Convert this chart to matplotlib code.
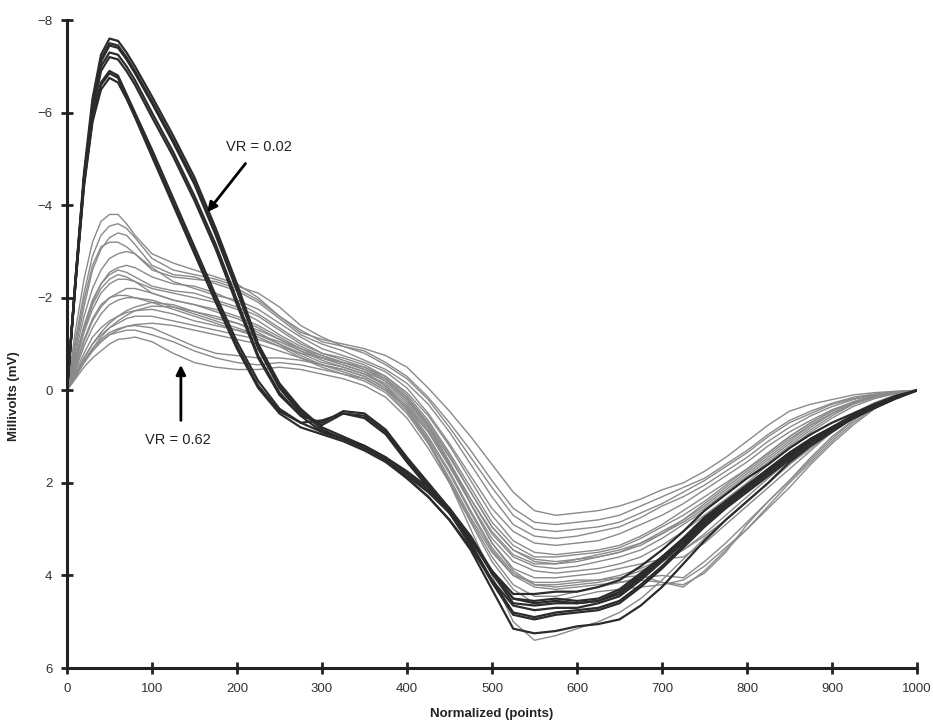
import matplotlib
matplotlib.use('Agg')
import matplotlib.pyplot as plt

plt.rcParams['font.family'] = ['Liberation Sans', 'DejaVu Sans']

# sample positions (normalized points) shared by every trace
x_points = [0, 10, 20, 30, 40, 50, 60, 70, 80,
            100, 125, 150, 175, 200, 225, 250, 275, 300, 325, 350, 375, 400, 425, 450, 475,
            500, 525, 550, 575, 600, 625, 650, 675, 700, 725, 750, 775, 800, 825, 850, 875,
            900, 925, 950, 975, 1000]

# VR = 0.02 bundle (dark traces), millivolts
dark_1 = [0, -2.4, -4.7, -6.3, -7.25, -7.6, -7.55, -7.3, -7.0,
          -6.35, -5.5, -4.6, -3.5, -2.3, -1.0, -0.15, 0.4, 0.8, 1.0, 1.2, 1.45, 1.8, 2.15, 2.6, 3.2,
          3.95, 4.5, 4.55, 4.5, 4.55, 4.5, 4.3, 3.95, 3.6, 3.2, 2.75, 2.4, 2.05, 1.7, 1.35, 1.05,
          0.8, 0.55, 0.35, 0.15, 0]
dark_2 = [0, -2.3, -4.6, -6.2, -7.15, -7.5, -7.45, -7.2, -6.9,
          -6.25, -5.4, -4.5, -3.4, -2.2, -0.95, -0.1, 0.45, 0.85, 1.05, 1.25, 1.5, 1.9, 2.3, 2.8, 3.45,
          4.3, 5.15, 5.25, 5.2, 5.1, 5.05, 4.95, 4.65, 4.25, 3.75, 3.25, 2.8, 2.4, 2.0, 1.55, 1.2,
          0.9, 0.6, 0.38, 0.18, 0]
dark_3 = [0, -2.35, -4.6, -6.15, -7.1, -7.45, -7.4, -7.15, -6.85,
          -6.2, -5.35, -4.45, -3.35, -2.15, -0.9, -0.05, 0.5, 0.75, 0.5, 0.55, 0.9, 1.5, 2.05, 2.6, 3.3,
          4.1, 4.8, 4.9, 4.8, 4.75, 4.7, 4.55, 4.2, 3.8, 3.35, 2.9, 2.5, 2.15, 1.8, 1.45, 1.1,
          0.85, 0.6, 0.38, 0.17, 0]
dark_4 = [0, -2.4, -4.6, -6.1, -7.0, -7.3, -7.25, -7.0, -6.7,
          -6.0, -5.15, -4.2, -3.15, -1.95, -0.75, 0.05, 0.55, 0.9, 1.05, 1.25, 1.5, 1.85, 2.2, 2.65, 3.25,
          3.9, 4.4, 4.4, 4.35, 4.35, 4.25, 4.1, 3.8, 3.45, 3.05, 2.6, 2.25, 1.9, 1.6, 1.25, 0.95,
          0.7, 0.5, 0.3, 0.12, 0]
dark_5 = [0, -2.3, -4.5, -6.0, -6.9, -7.2, -7.15, -6.9, -6.6,
          -5.9, -5.05, -4.1, -3.05, -1.85, -0.7, 0.1, 0.55, 0.7, 0.45, 0.5, 0.85, 1.45, 2.0, 2.55, 3.2,
          3.95, 4.6, 4.65, 4.6, 4.6, 4.55, 4.4, 4.05, 3.65, 3.25, 2.8, 2.45, 2.1, 1.75, 1.4, 1.05,
          0.8, 0.55, 0.35, 0.15, 0]
dark_6 = [0, -2.4, -4.5, -5.9, -6.65, -6.9, -6.8, -6.4, -6.0,
          -5.2, -4.15, -3.1, -2.05, -1.05, -0.2, 0.4, 0.7, 0.9, 1.05, 1.2, 1.45, 1.75, 2.1, 2.55, 3.15,
          3.9, 4.5, 4.6, 4.55, 4.6, 4.55, 4.35, 4.0, 3.6, 3.2, 2.75, 2.4, 2.05, 1.7, 1.35, 1.05,
          0.8, 0.55, 0.35, 0.15, 0]
dark_7 = [0, -2.35, -4.45, -5.85, -6.6, -6.85, -6.75, -6.35, -5.95,
          -5.1, -4.05, -3.0, -1.95, -0.95, -0.1, 0.45, 0.7, 0.65, 0.5, 0.6, 0.95, 1.55, 2.1, 2.65, 3.35,
          4.15, 4.85, 4.95, 4.85, 4.8, 4.75, 4.6, 4.25, 3.85, 3.4, 2.95, 2.55, 2.2, 1.85, 1.5, 1.15,
          0.85, 0.6, 0.38, 0.17, 0]
dark_8 = [0, -2.3, -4.4, -5.8, -6.5, -6.75, -6.65, -6.3, -5.9,
          -5.05, -4.0, -2.95, -1.9, -0.9, -0.05, 0.5, 0.8, 0.95, 1.1, 1.3, 1.55, 1.9, 2.3, 2.8, 3.4,
          4.1, 4.65, 4.75, 4.7, 4.7, 4.6, 4.45, 4.1, 3.7, 3.3, 2.85, 2.45, 2.1, 1.75, 1.4, 1.1,
          0.82, 0.58, 0.36, 0.16, 0]

# VR = 0.62 bundle (grey traces), millivolts
gray_1 = [0, -1.3, -2.4, -3.2, -3.65, -3.8, -3.8, -3.6, -3.35,
          -2.95, -2.75, -2.6, -2.45, -2.3, -2.0, -1.6, -1.25, -1.1, -1.0, -0.9, -0.75, -0.5, -0.05, 0.45, 1.0,
          1.6, 2.2, 2.6, 2.7, 2.65, 2.6, 2.5, 2.35, 2.15, 2.0, 1.75, 1.45, 1.1, 0.75, 0.45, 0.3,
          0.2, 0.1, 0.05, 0.02, 0]
gray_2 = [0, -1.1, -2.1, -2.9, -3.35, -3.55, -3.6, -3.5, -3.3,
          -2.85, -2.6, -2.5, -2.4, -2.25, -2.1, -1.8, -1.4, -1.15, -0.95, -0.85, -0.6, -0.3, 0.15, 0.7, 1.3,
          1.95, 2.55, 2.85, 2.9, 2.85, 2.8, 2.7, 2.5, 2.3, 2.1, 1.9, 1.6, 1.3, 0.95, 0.65, 0.45,
          0.28, 0.15, 0.08, 0.03, 0]
gray_3 = [0, -0.9, -1.8, -2.6, -3.05, -3.3, -3.4, -3.35, -3.15,
          -2.7, -2.5, -2.45, -2.3, -2.15, -1.9, -1.55, -1.2, -1.0, -0.85, -0.65, -0.45, -0.15, 0.3, 0.9, 1.6,
          2.3, 2.9, 3.15, 3.2, 3.15, 3.05, 2.95, 2.75, 2.5, 2.3, 2.05, 1.75, 1.45, 1.1, 0.8, 0.55,
          0.35, 0.2, 0.1, 0.04, 0]
gray_4 = [0, -0.8, -1.6, -2.2, -2.6, -2.85, -2.95, -3.0, -2.95,
          -2.65, -2.35, -2.2, -2.05, -1.95, -1.75, -1.45, -1.15, -0.9, -0.75, -0.6, -0.4, -0.05, 0.5, 1.15, 1.85,
          2.55, 3.05, 3.3, 3.35, 3.3, 3.25, 3.1, 2.9, 2.7, 2.45, 2.15, 1.85, 1.55, 1.2, 0.9, 0.65,
          0.42, 0.25, 0.12, 0.05, 0]
gray_5 = [0, -0.7, -1.4, -1.95, -2.3, -2.55, -2.65, -2.7, -2.65,
          -2.45, -2.3, -2.25, -2.1, -1.9, -1.65, -1.35, -1.05, -0.8, -0.7, -0.55, -0.3, 0.05, 0.55, 1.2, 1.95,
          2.7, 3.25, 3.5, 3.55, 3.5, 3.45, 3.35, 3.15, 2.9, 2.6, 2.3, 2.0, 1.7, 1.35, 1.0, 0.7,
          0.45, 0.25, 0.12, 0.05, 0]
gray_6 = [0, -0.6, -1.25, -1.75, -2.1, -2.3, -2.4, -2.4, -2.35,
          -2.2, -2.1, -2.0, -1.9, -1.75, -1.5, -1.2, -0.95, -0.75, -0.6, -0.45, -0.2, 0.2, 0.75, 1.45, 2.2,
          2.95, 3.45, 3.7, 3.75, 3.7, 3.6, 3.5, 3.35, 3.1, 2.85, 2.55, 2.2, 1.85, 1.5, 1.15, 0.8,
          0.5, 0.3, 0.15, 0.06, 0]
gray_7 = [0, -0.5, -1.05, -1.5, -1.8, -2.0, -2.1, -2.2, -2.2,
          -2.1, -1.95, -1.85, -1.7, -1.55, -1.35, -1.1, -0.85, -0.65, -0.5, -0.35, -0.1, 0.3, 0.9, 1.65, 2.45,
          3.2, 3.7, 3.9, 3.95, 3.9, 3.85, 3.75, 3.6, 3.35, 3.05, 2.7, 2.35, 2.0, 1.6, 1.25, 0.9,
          0.6, 0.35, 0.18, 0.07, 0]
gray_8 = [0, -0.45, -0.95, -1.35, -1.65, -1.85, -1.95, -2.0, -2.0,
          -1.95, -1.8, -1.7, -1.6, -1.45, -1.25, -1.0, -0.75, -0.55, -0.4, -0.25, 0.0, 0.45, 1.1, 1.9, 2.75,
          3.5, 4.0, 4.15, 4.15, 4.1, 4.1, 4.05, 4.0, 4.15, 4.2, 3.95, 3.5, 2.9, 2.4, 1.95, 1.45,
          1.0, 0.65, 0.35, 0.15, 0]
gray_9 = [0, -0.3, -0.6, -0.9, -1.15, -1.35, -1.5, -1.62, -1.72,
          -1.82, -1.8, -1.65, -1.5, -1.35, -1.2, -1.0, -0.8, -0.6, -0.5, -0.35, -0.15, 0.25, 0.85, 1.6, 2.45,
          3.3, 3.85, 4.05, 4.05, 4.0, 3.95, 3.85, 3.75, 3.65, 3.6, 3.3, 2.9, 2.5, 2.1, 1.7, 1.3,
          0.9, 0.55, 0.3, 0.12, 0]
gray_10 = [0, -0.4, -0.8, -1.15, -1.35, -1.5, -1.6, -1.68, -1.72,
           -1.75, -1.65, -1.5, -1.4, -1.3, -1.2, -1.05, -0.85, -0.7, -0.6, -0.5, -0.3, 0.1, 0.65, 1.35, 2.1,
           2.85, 3.35, 3.6, 3.6, 3.55, 3.5, 3.4, 3.2, 2.95, 2.7, 2.4, 2.05, 1.7, 1.35, 1.0, 0.7,
           0.45, 0.25, 0.12, 0.05, 0]
gray_11 = [0, -0.35, -0.7, -1.0, -1.2, -1.35, -1.45, -1.55, -1.6,
           -1.6, -1.5, -1.4, -1.3, -1.2, -1.1, -0.95, -0.8, -0.7, -0.55, -0.4, -0.2, 0.2, 0.8, 1.55, 2.35,
           3.1, 3.6, 3.8, 3.85, 3.8, 3.7, 3.6, 3.45, 3.2, 2.9, 2.6, 2.25, 1.9, 1.55, 1.2, 0.85,
           0.55, 0.3, 0.15, 0.06, 0]
gray_12 = [0, -0.3, -0.6, -0.85, -1.05, -1.2, -1.3, -1.38, -1.42,
           -1.45, -1.4, -1.3, -1.2, -1.1, -1.0, -0.85, -0.7, -0.55, -0.45, -0.3, -0.05, 0.4, 1.05, 1.8, 2.65,
           3.45, 4.0, 4.25, 4.3, 4.25, 4.2, 4.15, 4.1, 4.15, 4.25, 3.9, 3.45, 3.0, 2.55, 2.1, 1.6,
           1.15, 0.75, 0.4, 0.17, 0]
gray_13 = [0, -0.3, -0.6, -0.85, -1.05, -1.2, -1.25, -1.3, -1.3,
           -1.2, -1.05, -0.85, -0.7, -0.6, -0.55, -0.6, -0.55, -0.45, -0.35, -0.2, 0.05, 0.5, 1.15, 1.95, 2.8,
           3.6, 4.2, 4.45, 4.45, 4.35, 4.25, 4.15, 4.05, 4.0, 4.05, 3.7, 3.3, 2.85, 2.4, 1.95, 1.5,
           1.05, 0.65, 0.35, 0.15, 0]
gray_14 = [0, -0.25, -0.5, -0.7, -0.85, -1.0, -1.1, -1.12, -1.15,
           -1.05, -0.8, -0.6, -0.5, -0.45, -0.45, -0.5, -0.45, -0.35, -0.25, -0.1, 0.15, 0.6, 1.25, 2.0, 2.85,
           3.7, 4.3, 4.6, 4.55, 4.45, 4.35, 4.3, 4.25, 4.2, 4.1, 3.8, 3.4, 3.0, 2.5, 2.0, 1.55,
           1.1, 0.7, 0.38, 0.16, 0]
gray_15 = [0, -0.65, -1.3, -1.85, -2.2, -2.4, -2.5, -2.45, -2.35,
           -2.1, -1.95, -1.85, -1.75, -1.6, -1.4, -1.15, -0.9, -0.7, -0.55, -0.4, -0.1, 0.4, 1.1, 2.0, 3.0,
           4.0, 5.0, 5.4, 5.3, 5.15, 5.0, 4.8, 4.5, 4.1, 3.65, 3.2, 2.8, 2.4, 2.0, 1.6, 1.25,
           0.9, 0.6, 0.35, 0.15, 0]
gray_16 = [0, -0.55, -1.1, -1.55, -1.85, -2.0, -2.05, -2.05, -2.0,
           -1.9, -1.75, -1.6, -1.45, -1.3, -1.15, -0.95, -0.7, -0.5, -0.35, -0.25, 0.0, 0.35, 0.9, 1.6, 2.35,
           3.05, 3.55, 3.75, 3.75, 3.65, 3.6, 3.5, 3.3, 3.1, 2.8, 2.5, 2.15, 1.8, 1.45, 1.1, 0.75,
           0.5, 0.28, 0.13, 0.05, 0]
gray_17 = [0, -1.0, -1.95, -2.7, -3.1, -3.2, -3.2, -3.1, -2.95,
           -2.6, -2.45, -2.4, -2.35, -2.2, -1.95, -1.6, -1.3, -1.05, -0.95, -0.8, -0.55, -0.25, 0.2, 0.8, 1.45,
           2.1, 2.7, 3.0, 3.05, 3.0, 2.95, 2.85, 2.65, 2.45, 2.2, 1.95, 1.65, 1.35, 1.0, 0.7, 0.5,
           0.3, 0.18, 0.09, 0.03, 0]
gray_18 = [0, -0.7, -1.35, -1.9, -2.3, -2.5, -2.6, -2.55, -2.45,
           -2.25, -2.15, -2.1, -1.95, -1.8, -1.6, -1.3, -1.0, -0.8, -0.65, -0.5, -0.25, 0.15, 0.75, 1.55, 2.45,
           3.3, 3.9, 4.2, 4.25, 4.2, 4.15, 4.05, 3.9, 3.7, 3.45, 3.1, 2.7, 2.3, 1.9, 1.5, 1.15,
           0.8, 0.5, 0.27, 0.1, 0]
gray_19 = [0, -0.35, -0.7, -1.0, -1.25, -1.45, -1.6, -1.72, -1.8,
           -1.9, -1.85, -1.7, -1.55, -1.45, -1.3, -1.1, -0.9, -0.75, -0.6, -0.45, -0.25, 0.15, 0.7, 1.4, 2.2,
           2.95, 3.45, 3.65, 3.7, 3.65, 3.55, 3.45, 3.3, 3.05, 2.8, 2.45, 2.1, 1.75, 1.4, 1.05, 0.75,
           0.5, 0.28, 0.13, 0.05, 0]
gray_20 = [0, -0.3, -0.65, -0.9, -1.1, -1.25, -1.33, -1.38, -1.4,
           -1.35, -1.15, -0.95, -0.8, -0.75, -0.7, -0.7, -0.65, -0.55, -0.45, -0.3, -0.05, 0.35, 1.0, 1.75, 2.6,
           3.4, 3.95, 4.2, 4.2, 4.15, 4.1, 4.0, 3.85, 3.65, 3.45, 3.15, 2.8, 2.4, 2.0, 1.6, 1.2,
           0.85, 0.5, 0.27, 0.11, 0]

dark_traces = [dark_1, dark_2, dark_3, dark_4, dark_5, dark_6, dark_7, dark_8]
gray_traces = [gray_1, gray_2, gray_3, gray_4, gray_5, gray_6, gray_7, gray_8, gray_9, gray_10,
               gray_11, gray_12, gray_13, gray_14, gray_15, gray_16, gray_17, gray_18, gray_19, gray_20]

y_ticks = [-8, -6, -4, -2, 0, 2, 4, 6]
x_ticks = [0, 100, 200, 300, 400, 500, 600, 700, 800, 900, 1000]

fig = plt.figure(figsize=(9.33, 7.24), dpi=100)
ax = fig.add_axes([0.0718, 0.0773, 0.911, 0.895])

for trace in gray_traces:
    ax.plot(x_points, trace, color='#8a8a8a', lw=1.0, solid_joinstyle='round')
for trace in dark_traces:
    ax.plot(x_points, trace, color='#2b2b2b', lw=1.6, solid_joinstyle='round')

ax.set_xlim(0, 1000)
ax.set_ylim(6, -8)
ax.set_xticks(x_ticks)
ax.set_yticks(y_ticks)

for side in ['top', 'right']:
    ax.spines[side].set_visible(False)
for side in ['left', 'bottom']:
    ax.spines[side].set_linewidth(2.2)
    ax.spines[side].set_color('#222222')

ax.tick_params(direction='inout', length=9, width=2, color='#222222',
               labelsize=9.5, labelcolor='#333333', pad=6)

ax.set_xlabel('Normalized (points)', fontsize=9.5, fontweight='bold', color='#222222')
ax.set_ylabel('Millivolts (mV)', fontsize=9.5, fontweight='bold', color='#222222')
ax.xaxis.set_label_coords(0.5, -0.062)
ax.yaxis.set_label_coords(-0.055, 0.42)

arrow = dict(arrowstyle='-|>', color='black', lw=2, mutation_scale=14, shrinkA=0, shrinkB=0)
ax.annotate('', xy=(165, -3.85), xytext=(210, -4.9), arrowprops=arrow)
ax.text(226, -5.25, 'VR = 0.02', fontsize=10.5, ha='center', va='center', color='#222222')
ax.annotate('', xy=(134, -0.55), xytext=(134, 0.65), arrowprops=arrow)
ax.text(130, 1.08, 'VR = 0.62', fontsize=10.5, ha='center', va='center', color='#222222')

fig.savefig('out.png', dpi=100)
